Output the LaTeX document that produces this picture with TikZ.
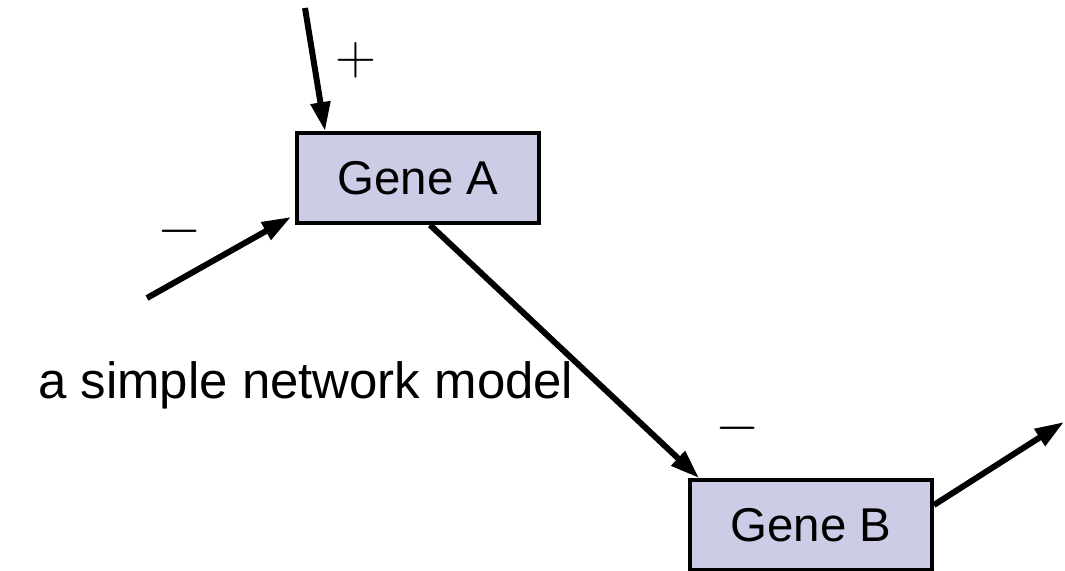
\documentclass[tikz,border=0pt]{standalone}
\usepackage{fontspec}
\setmainfont{Liberation Sans}
\usetikzlibrary{arrows.meta}
\definecolor{genefill}{RGB}{204,204,230}

\begin{document}
\begin{tikzpicture}[x=0.02cm,y=-0.02cm,
        gene/.style={draw,line width=2.2pt,fill=genefill,minimum width=4.84cm,minimum height=1.8cm,font=\fontsize{27}{30}\selectfont},
        link/.style={line width=3.4pt,-{Triangle[length=0.58cm,width=0.38cm]}},
        sign/.style={font=\fontsize{24.88}{30}\selectfont,inner sep=0pt}]
        \useasboundingbox (0,0) rectangle (1065,571);
        % Genes
        \node[gene] (geneA) at (418,178) {Gene A};
        \node[gene] (geneB) at (811,525) {Gene B};
        % Free ends
        \coordinate (inA) at (305,8);
        \coordinate (inB) at (147,298);
        \coordinate (out) at (1064,422);
        % Regulations
        \draw[link] (inA) -- ([xshift=0.6cm]geneA.north west);
        \draw[link] (inB) -- ([xshift=-0.08cm,yshift=0.16cm]geneA.south west);
        \draw[link] ([xshift=0.24cm]geneA.south) -- ([xshift=0.22cm]geneB.north west);
        \draw[link] ([yshift=0.4cm]geneB.east) -- (out);
        % Signs
        \node[sign] (plusA) at (356,60) {\scalebox{1.3}{$+$}};
        \node[sign] (minusA) at (180,231) {\scalebox{1.3}{$-$}};
        \node[sign] (minusB) at (738,428) {\scalebox{1.3}{$-$}};
        % Caption
        \node[anchor=west,font=\fontsize{29}{32}\selectfont] (caption) at (32,385) {a simple network model};
\end{tikzpicture}
\end{document}
